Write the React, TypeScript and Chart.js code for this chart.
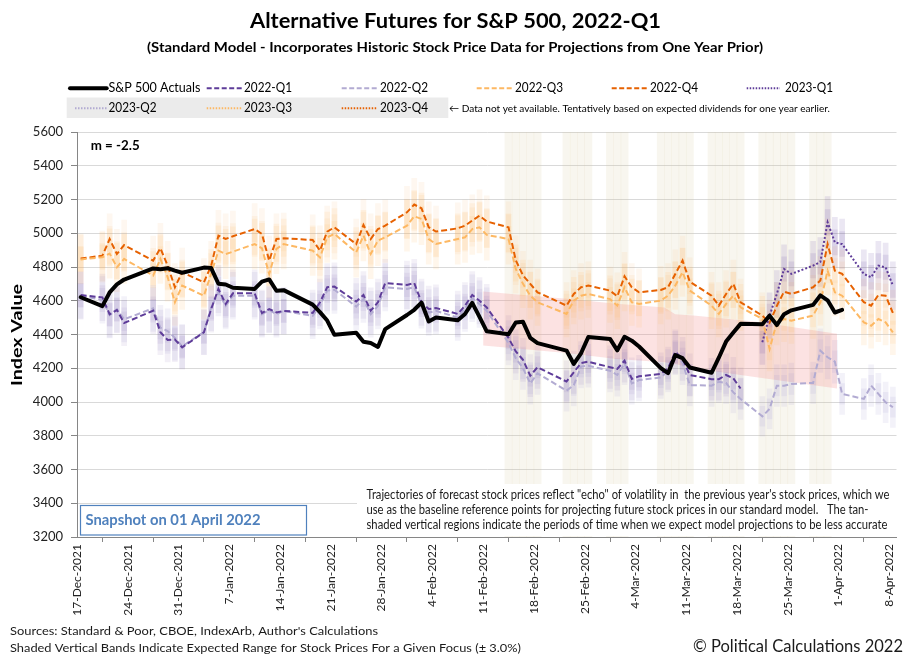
import React, { useEffect, useRef } from "react";
import { Chart, registerables } from "chart.js";
Chart.register(...registerables);

// ---------- DATA ----------
// calendar-day offsets from 17-Dec-2021 for each trading day
const tradingDays = [
  0, 3, 4, 5, 6, 10, 11, 12, 13, 14,
  17, 18, 19, 20, 21, 24, 25, 26, 27, 28, 32, 33, 34, 35, 38, 39, 40, 41, 42, 45,
  46, 47, 48, 49, 52, 53, 54, 55, 56, 59, 60, 61, 62, 63, 67, 68, 69, 70, 73,
  74, 75, 76, 77, 80, 81, 82, 83, 84, 87, 88, 89, 90, 91, 94, 95, 96, 97, 98, 101, 102, 103, 104,
  105, 108, 109, 110, 111, 112,
];

const sp500Actuals = [
  4620.64, 4568.02, 4649.23, 4696.56, 4725.79, 4791.19, 4786.35, 4793.06, 4778.73, 4766.18,
  4796.56, 4793.54, 4700.58, 4696.05, 4677.03, 4670.29, 4713.07, 4726.35, 4659.03, 4662.85,
  4577.11, 4532.76, 4482.73, 4397.94, 4410.13, 4356.45, 4349.93, 4326.51, 4431.85, 4515.55,
  4546.54, 4589.38, 4477.44, 4500.53, 4483.87, 4521.54, 4587.18, 4504.08, 4418.64, 4401.67,
  4471.07, 4475.01, 4380.26, 4348.87, 4304.76, 4225.5, 4288.7, 4384.65, 4373.94,
  4306.26, 4386.54, 4363.49, 4328.87, 4201.09, 4170.7, 4277.88, 4259.52, 4204.31, 4173.11,
  4262.45, 4357.86, 4411.67, 4463.12, 4461.18, 4511.61, 4456.24, 4520.16, 4543.06, 4575.52,
  4631.6, 4602.45, 4530.41,
  4545.86, null, null, null, null, null,
];

const q2022_1 = [
  4634, 4620, 4520, 4545, 4468, 4541, 4413, 4368, 4370, 4324,
  4413, 4551, 4670, 4581, 4644, 4644, 4527, 4551, 4531, 4540, 4528, 4590, 4680, 4684, 4595, 4634, 4541, 4591, 4705, 4694,
  4705, 4591, 4551, 4557, 4522, 4571, 4634, 4600, 4560, 4380, 4300, 4250, 4156, 4206, 4121, 4176, 4231, 4239, 4206,
  4196, 4245, 4137, 4152, 4166, 4200, 4298, 4255, 4160, 4135, 4135, 4160, 4140, 4080,
  null, null, null, null, null, null, null, null, null,
  null, null, null, null, null, null,
];

const q2022_2 = [
  4630, 4605, 4515, 4550, 4490, 4555, 4440, 4420, 4380, 4330,
  4415, 4560, 4650, 4570, 4630, 4630, 4520, 4545, 4520, 4540, 4510, 4570, 4660, 4665, 4565, 4610, 4520, 4570, 4680, 4670,
  4680, 4575, 4530, 4540, 4500, 4555, 4615, 4580, 4540, 4350, 4260, 4200, 4110, 4170, 4067, 4100, 4210, 4215, 4185,
  4160, 4230, 4110, 4130, 4145, 4185, 4290, 4230, 4100, 4097, 4120, 4113, 4057, 4018, 3915, 3959, 4097, 4097, 4107, 4113, 4304, 4265, 4239,
  4048, 4018, 4097, 4048, 3998, 3969,
];

const q2022_3 = [
  4845, 4858, 4880, 4798, 4848, 4749, 4848, 4740, 4591, 4690,
  4630, 4760, 4897, 4877, 4891, 4936, 4911, 4759, 4907, 4936, 4897, 4857, 4976, 4996, 4887, 4986, 4877, 4956, 4976, 5045,
  5100, 5085, 4966, 4936, 4966, 4976, 5025, 5035, 4990, 4966, 4788, 4700, 4630, 4591, 4522, 4601, 4630, 4640, 4610,
  4571, 4680, 4591, 4581, 4601, 4630, 4690, 4769, 4660, 4571, 4522, 4581, 4630, 4561, 4492, 4314, 4472, 4492, 4482, 4512, 4591, 4778, 4650,
  4630, 4472, 4452, 4492, 4472, 4413,
];

const q2022_4 = [
  4850, 4867, 4966, 4877, 4930, 4838, 4911, 4808, 4680, 4769,
  4709, 4808, 4986, 4966, 4982, 5025, 4996, 4838, 4966, 4970, 4960, 4897, 5010, 5035, 4936, 5049, 4966, 5025, 5045, 5124,
  5170, 5148, 5035, 5010, 5029, 5045, 5075, 5104, 5070, 5035, 4840, 4750, 4700, 4650, 4571, 4640, 4680, 4690, 4660,
  4626, 4745, 4680, 4650, 4664, 4680, 4759, 4838, 4713, 4630, 4571, 4640, 4700, 4591, 4512, 4470, 4570, 4654, 4640, 4680, 4720, 4936, 4778,
  4759, 4591, 4571, 4634, 4630, 4528,
];

const q2023_1 = [
  null, null, null, null, null, null, null, null, null, null,
  null, null, null, null, null, null, null, null, null, null, null, null, null, null, null, null, null, null, null, null,
  null, null, null, null, null, null, null, null, null, null, null, null, null, null, null, null, null, null, null,
  null, null, null, null, null, null, null, null, null, null, null, null, null, null,
  4354, 4512, 4640, 4788, 4759, 4808, 4830, 5065, 4946,
  4936, 4759, 4739, 4808, 4798, 4690,
];

const q2023_2: (number | null)[] = [];
const q2023_3: (number | null)[] = [];
const q2023_4: (number | null)[] = [];

// tan-shaded trading days (less accurate projection periods)
const tanDays = [59, 60, 61, 62, 63, 67, 68, 69, 70, 73, 74, 75, 80, 81, 82, 83, 84, 87, 88, 89, 90, 91, 94, 95, 96, 97, 98, 101, 102, 103];

// red trend band (day position, upper and lower values)
const pinkBandX = [56, 67.5, 74.4, 81, 82.5, 85, 93.7, 104.8];
const pinkBandTop = [4655, 4612, 4582, 4560, 4520, 4512, 4475, 4405];
const pinkBandBottom = [4335, 4290, 4255, 4235, 4225, 4200, 4146, 4080];

const xTickDays = [0, 7, 14, 21, 28, 35, 42, 49, 56, 63, 70, 77, 84, 91, 98, 105, 112];
const xTickLabels = [
  "17-Dec-2021", "24-Dec-2021", "31-Dec-2021", "7-Jan-2022", "14-Jan-2022", "21-Jan-2022",
  "28-Jan-2022", "4-Feb-2022", "11-Feb-2022", "18-Feb-2022", "25-Feb-2022", "4-Mar-2022",
  "11-Mar-2022", "18-Mar-2022", "25-Mar-2022", "1-Apr-2022", "8-Apr-2022",
];

const bandPct = 0.03;
const yMin = 3200;
const yMax = 5600;

// ---------- HELPERS ----------
const FONT = "Lato, 'Open Sans', 'DejaVu Sans', sans-serif";

function linePts(vals: (number | null)[]) {
  const out: { x: number; y: number }[] = [];
  tradingDays.forEach((d, i) => {
    const v = vals[i];
    if (v != null) out.push({ x: d + 0.5, y: v });
  });
  return out;
}

function barPts(vals: (number | null)[], pct: number) {
  const out: { x: number; y: number[] }[] = [];
  tradingDays.forEach((d, i) => {
    const v = vals[i];
    if (v != null) out.push({ x: d + 0.5, y: [v * (1 - pct), v * (1 + pct)] });
  });
  return out;
}

function fitText(
  ctx: CanvasRenderingContext2D, text: string, x: number, y: number,
  width: number, font: string, color: string
) {
  ctx.save();
  ctx.font = font;
  ctx.fillStyle = color;
  ctx.textBaseline = "middle";
  ctx.textAlign = "left";
  const w = ctx.measureText(text).width || 1;
  ctx.translate(x, y);
  ctx.scale(width / w, 1);
  ctx.fillText(text, 0, 0);
  ctx.restore();
}

const DASH = [6, 3];
const DOT = [2, 2];

const seriesDefs = [
  { label: "2022-Q1", vals: q2022_1, color: "#5e3c99", dash: DASH, bar: "rgba(94,60,153,0.075)" },
  { label: "2022-Q2", vals: q2022_2, color: "#b2abd2", dash: DASH, bar: "rgba(140,128,195,0.1)" },
  { label: "2022-Q3", vals: q2022_3, color: "#fdb863", dash: DASH, bar: "rgba(253,184,99,0.13)" },
  { label: "2022-Q4", vals: q2022_4, color: "#e66101", dash: DASH, bar: "rgba(245,150,70,0.08)" },
  { label: "2023-Q1", vals: q2023_1, color: "#5e3c99", dash: DOT, bar: "rgba(94,60,153,0.12)" },
  { label: "2023-Q2", vals: q2023_2, color: "#b2abd2", dash: DOT, bar: "rgba(140,128,195,0.1)" },
  { label: "2023-Q3", vals: q2023_3, color: "#fdb863", dash: DOT, bar: "rgba(253,184,99,0.13)" },
  { label: "2023-Q4", vals: q2023_4, color: "#e66101", dash: DOT, bar: "rgba(245,150,70,0.08)" },
];

// ---------- OVERLAY PLUGIN (titles, legend, notes) ----------
const overlay = {
  id: "overlay",
  afterDraw(chart: any) {
    const ctx: CanvasRenderingContext2D = chart.ctx;

    fitText(ctx, "Alternative Futures for S&P 500, 2022-Q1", 250, 22, 411, `bold 20px ${FONT}`, "#000");
    fitText(ctx, "(Standard Model - Incorporates Historic Stock Price Data for Projections from One Year Prior)",
      147, 48, 616, `bold 13.5px ${FONT}`, "#000");

    // legend
    ctx.save();
    ctx.fillStyle = "#ebebeb";
    ctx.fillRect(66.7, 97.5, 381.6, 20.5);
    ctx.restore();
    const colL1 = [70, 206.7, 341.7, 476.7, 611.7, 746.7];
    const colL2 = [106.7, 241.7, 376.7, 511.7, 646.7, 780];
    const colT = [108.5, 244, 380, 515, 650, 785];
    const items = [
      { label: "S&P 500 Actuals", color: "#000", dash: [] as number[], w: 4, row: 0, col: 0, tw: 92 },
      ...seriesDefs.map((s, i) => ({
        label: s.label, color: s.color, dash: s.dash, w: 2,
        row: i < 5 ? 0 : 1, col: i < 5 ? i + 1 : i - 5, tw: 48,
      })),
    ];
    items.forEach((it) => {
      const y = it.row === 0 ? 88.3 : 108.3;
      const x1 = it.row === 1 && it.col === 0 ? 75 : colL1[it.col];
      ctx.save();
      ctx.strokeStyle = it.color;
      ctx.lineWidth = it.w;
      ctx.setLineDash(it.dash.length ? (it.dash === DOT ? [1.5, 1.5] : [5, 2.5]) : []);
      ctx.lineCap = it.dash.length ? "butt" : "round";
      ctx.beginPath();
      ctx.moveTo(x1, y);
      ctx.lineTo(colL2[it.col], y);
      ctx.stroke();
      ctx.restore();
      fitText(ctx, it.label, colT[it.col], y, it.tw, `13px ${FONT}`, "#000");
    });
    fitText(ctx, "\u2190 Data not yet available. Tentatively based on expected dividends for one year earlier.",
      449, 108.3, 381, `10px ${FONT}`, "#000");

    // y axis title
    ctx.save();
    ctx.translate(17, 335);
    ctx.rotate(-Math.PI / 2);
    fitText(ctx, "Index Value", -51, 0, 102, `bold 16px ${FONT}`, "#000");
    ctx.restore();

    // slope label
    fitText(ctx, "m = -2.5", 90.7, 146, 49, `bold 12.5px ${FONT}`, "#000");

    // snapshot box
    ctx.save();
    ctx.fillStyle = "#fff";
    ctx.fillRect(80, 505, 226.7, 30);
    ctx.strokeStyle = "#4f81bd";
    ctx.lineWidth = 1.2;
    ctx.strokeRect(80.5, 505.5, 226, 29.5);
    ctx.restore();
    fitText(ctx, "Snapshot on 01 April 2022", 85.5, 520, 175, `bold 14.5px ${FONT}`, "#4f81bd");

    // explanatory note
    ctx.save();
    ctx.fillStyle = "#fff";
    ctx.fillRect(357, 484, 540, 52);
    ctx.restore();
    const noteFont = `12.5px ${FONT}`;
    fitText(ctx, "Trajectories of forecast stock prices reflect \"echo\" of volatility in  the previous year's stock prices, which we",
      366.5, 495, 523, noteFont, "#1a1a1a");
    fitText(ctx, "use as the baseline reference points for projecting future stock prices in our standard model.   The tan-",
      366.5, 510, 502, noteFont, "#1a1a1a");
    fitText(ctx, "shaded vertical regions indicate the periods of time when we expect model projections to be less accurate",
      366.5, 525, 521, noteFont, "#1a1a1a");

    // footer
    fitText(ctx, "Sources: Standard & Poor, CBOE, IndexArb, Author's Calculations", 10, 631, 368, `12px ${FONT}`, "#1a1a1a");
    fitText(ctx, "Shaded Vertical Bands Indicate Expected Range for Stock Prices For a Given Focus (\u00b1 3.0%)",
      10, 648, 511, `12px ${FONT}`, "#1a1a1a");
    fitText(ctx, "\u00a9 Political Calculations 2022", 693, 647, 210, `17px ${FONT}`, "#1a1a1a");
  },
};

// ---------- COMPONENT ----------
export default function App() {
  const ref = useRef<HTMLCanvasElement | null>(null);

  useEffect(() => {
    if (!ref.current) return;
    const datasets: any[] = [];

    datasets.push({
      type: "line", label: "S&P 500 Actuals", data: linePts(sp500Actuals),
      borderColor: "#000", borderWidth: 4, pointRadius: 0, fill: false, tension: 0,
      borderJoinStyle: "round", borderCapStyle: "round", order: 0,
    });

    seriesDefs.forEach((s, i) => {
      datasets.push({
        type: "line", label: s.label, data: linePts(s.vals),
        borderColor: s.color, borderWidth: 2, borderDash: s.dash, pointRadius: 0,
        fill: false, tension: 0, order: 1 + i,
      });
    });

    seriesDefs.forEach((s, i) => {
      datasets.push({
        type: "bar", label: s.label + " range", data: barPts(s.vals, bandPct),
        backgroundColor: s.bar, borderWidth: 0, barThickness: 5, grouped: false, order: 20 + i,
      });
      datasets.push({
        type: "bar", label: s.label + " core", data: barPts(s.vals, bandPct / 2),
        backgroundColor: s.bar, borderWidth: 0, barThickness: 5, grouped: false, order: 20 + i,
      });
    });

    datasets.push({
      type: "line", label: "band low", data: pinkBandX.map((x, i) => ({ x, y: pinkBandBottom[i] })),
      borderWidth: 0, borderColor: "rgba(0,0,0,0)", pointRadius: 0, fill: false, tension: 0, order: 40,
    });
    datasets.push({
      type: "line", label: "band high", data: pinkBandX.map((x, i) => ({ x, y: pinkBandTop[i] })),
      borderWidth: 0, borderColor: "rgba(0,0,0,0)", pointRadius: 0, fill: "-1",
      backgroundColor: "rgba(245,140,140,0.25)", tension: 0, order: 40,
    });

    datasets.push({
      type: "bar", label: "tan", data: tanDays.map((d) => ({ x: d + 0.5, y: [yMin, yMax] })),
      backgroundColor: "rgba(215,200,160,0.17)", borderWidth: 0, barThickness: 7.25, grouped: false, order: 50,
    });

    const chart = new Chart(ref.current, {
      type: "line",
      data: { datasets },
      plugins: [overlay],
      options: {
        responsive: false,
        maintainAspectRatio: false,
        animation: false,
        events: [],
        font: { family: FONT },
        layout: { padding: { left: 0, top: 132, right: 13.5, bottom: 0 } },
        plugins: {
          legend: { display: false },
          tooltip: { enabled: false },
          title: { display: false },
        },
        scales: {
          x: {
            type: "linear",
            min: 0,
            max: 113,
            offset: false,
            afterFit: (s: any) => { s.height = 125; },
            afterBuildTicks: (s: any) => { s.ticks = xTickDays.map((v) => ({ value: v })); },
            ticks: {
              autoSkip: false,
              maxRotation: 90,
              minRotation: 90,
              padding: 2,
              color: "#222",
              font: { family: FONT, size: 12 },
              callback: (v: any) => {
                const i = xTickDays.indexOf(Number(v));
                return i >= 0 ? xTickLabels[i] : "";
              },
            },
            grid: { drawOnChartArea: false, drawTicks: true, tickLength: 5, tickColor: "#868686" },
            border: { color: "#868686" },
          },
          y: {
            type: "linear",
            min: yMin,
            max: yMax,
            afterFit: (s: any) => { s.width = 77; },
            ticks: {
              stepSize: 200,
              padding: 8,
              color: "#222",
              font: { family: FONT, size: 13 },
              callback: (v: any) => String(v),
            },
            grid: { color: "#d9d9d9", tickColor: "#868686", tickLength: 6 },
            border: { color: "#868686" },
          },
        },
      } as any,
    } as any);

    return () => chart.destroy();
  }, []);

  return (
    <div style={{ position: "absolute", left: 0, top: 0, width: 910, height: 662, background: "#fff" }}>
      <canvas ref={ref} width={910} height={662} style={{ display: "block", width: 910, height: 662 }} />
    </div>
  );
}
